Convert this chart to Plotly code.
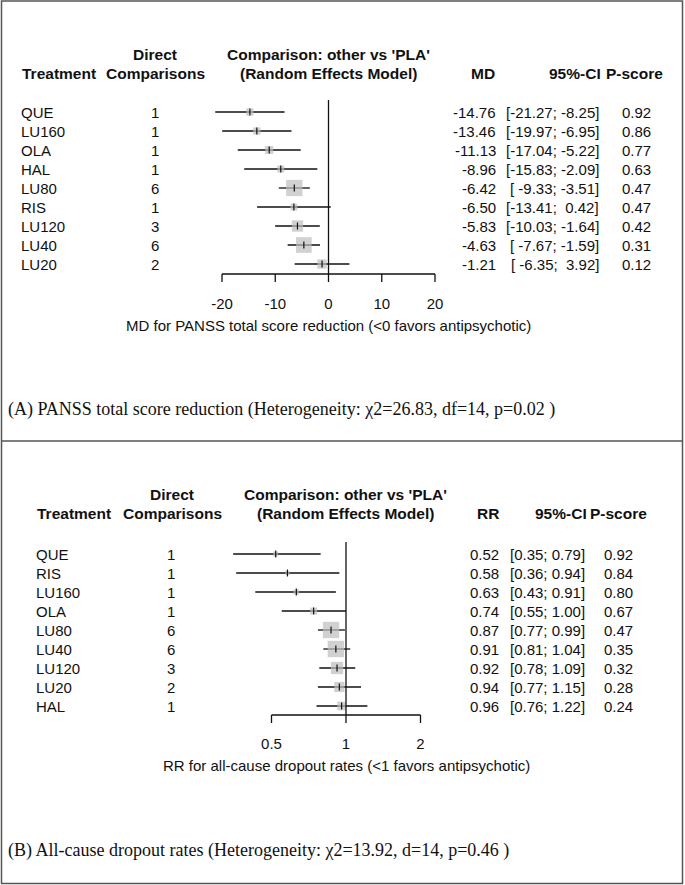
import math
import plotly.graph_objects as go

W, H = 685, 885

# ---------------- data: panel A (PANSS total score reduction, MD) ----------------
a_treat = ["QUE", "LU160", "OLA", "HAL", "LU80", "RIS", "LU120", "LU40", "LU20"]
a_direct = [1, 1, 1, 1, 6, 1, 3, 6, 2]
a_md = [-14.76, -13.46, -11.13, -8.96, -6.42, -6.50, -5.83, -4.63, -1.21]
a_lo = [-21.27, -19.97, -17.04, -15.83, -9.33, -13.41, -10.03, -7.67, -6.35]
a_hi = [-8.25, -6.95, -5.22, -2.09, -3.51, 0.42, -1.64, -1.59, 3.92]
a_pscore = [0.92, 0.86, 0.77, 0.63, 0.47, 0.47, 0.42, 0.31, 0.12]
a_ticks = [-20, -10, 0, 10, 20]
a_null = 0
a_axis_title = "MD for PANSS total score reduction (&lt;0 favors antipsychotic)"
a_caption = "(A) PANSS total score reduction (Heterogeneity: \u03c72=26.83, df=14, p=0.02 )"

# ---------------- data: panel B (all-cause dropout, RR) ----------------
b_treat = ["QUE", "RIS", "LU160", "OLA", "LU80", "LU40", "LU120", "LU20", "HAL"]
b_direct = [1, 1, 1, 1, 6, 6, 3, 2, 1]
b_rr = [0.52, 0.58, 0.63, 0.74, 0.87, 0.91, 0.92, 0.94, 0.96]
b_lo = [0.35, 0.36, 0.43, 0.55, 0.77, 0.81, 0.78, 0.77, 0.76]
b_hi = [0.79, 0.94, 0.91, 1.00, 0.99, 1.04, 1.09, 1.15, 1.22]
b_pscore = [0.92, 0.84, 0.80, 0.67, 0.47, 0.35, 0.32, 0.28, 0.24]
b_ticks = [0.5, 1, 2]
b_null = 1
b_axis_title = "RR for all-cause dropout rates (&lt;1 favors antipsychotic)"
b_caption = "(B) All-cause dropout rates (Heterogeneity: \u03c72=13.92, d=14, p=0.46 )"

# ---------------- layout constants (pixels) ----------------
ROW = 19.0
DIV = 441.0
SANS = "Liberation Sans, Arial, Helvetica, sans-serif"
SERIF = "Liberation Serif, Times New Roman, serif"
FS = 15
FSB = 15.5
INK = "#111111"
GREY = "#BEBEBE"

def px(x):
    return x / W

def py(y):
    return 1 - y / H

panels = [
    dict(key="A", treat=a_treat, direct=a_direct, est=a_md, lo=a_lo, hi=a_hi, ps=a_pscore,
         ticks=a_ticks, null=a_null, axis_title=a_axis_title, caption=a_caption,
         est_head="MD", log=False,
         top=0.0, bot=DIV, row0=112.0, h1=55.0, h2=73.5,
         zero_px=328.5, scale=213.0 / 40.0,
         name_x=21, direct_x=155, est_r=496, ci_r=599, p_c=636,
         h_treat=22, h_direct=155, h_comp=328, h_est_r=495, h_ci_r=601, h_p=634,
         vtop=100.0, axis_y=274.0, tick_len=8.0, ticklab_y=305.0, title_y=325.0, cap_y=410.0,
         sq_k=95.0),
    dict(key="B", treat=b_treat, direct=b_direct, est=b_rr, lo=b_lo, hi=b_hi, ps=b_pscore,
         ticks=b_ticks, null=b_null, axis_title=b_axis_title, caption=b_caption,
         est_head="RR", log=True,
         top=DIV, bot=float(H), row0=554.0, h1=495.0, h2=513.5,
         zero_px=346.0, scale=74.5 / math.log10(2),
         name_x=36, direct_x=171, est_r=499, ci_r=585, p_c=618,
         h_treat=37, h_direct=172, h_comp=345, h_est_r=499, h_ci_r=587, h_p=618,
         vtop=542.0, axis_y=715.0, tick_len=8.0, ticklab_y=745.0, title_y=765.0, cap_y=850.0,
         sq_k=4.1),
]

fig = go.Figure()
annotations = []
layout_axes = {}

for n, P in enumerate(panels):
    xa = "x" if n == 0 else "x2"
    ya = "y" if n == 0 else "y2"
    xname = "xaxis" if n == 0 else "xaxis2"
    yname = "yaxis" if n == 0 else "yaxis2"

    def rowy(pix, P=P):
        return (pix - P["row0"]) / ROW

    # axes: full-width invisible data axes, calibrated to pixel positions
    xr = [(0 - P["zero_px"]) / P["scale"], (W - P["zero_px"]) / P["scale"]]
    layout_axes[xname] = dict(type="log" if P["log"] else "linear", range=xr, domain=[0, 1],
                              visible=False, anchor=ya, fixedrange=True)
    layout_axes[yname] = dict(range=[rowy(P["bot"]), rowy(P["top"])],
                              domain=[py(P["bot"]), py(P["top"])],
                              visible=False, anchor=xa, fixedrange=True)

    idx = list(range(len(P["treat"])))

    # confidence interval lines
    cx, cy = [], []
    for i in idx:
        cx += [P["lo"][i], P["hi"][i], None]
        cy += [i, i, None]
    fig.add_trace(go.Scatter(x=cx, y=cy, xaxis=xa, yaxis=ya, mode="lines",
                             line=dict(color=INK, width=1.3), hoverinfo="skip"))

    # weight squares (size inversely proportional to CI width)
    if P["log"]:
        sizes = [P["sq_k"] / math.log(P["hi"][i] / P["lo"][i]) for i in idx]
    else:
        sizes = [P["sq_k"] / (P["hi"][i] - P["lo"][i]) for i in idx]
    fig.add_trace(go.Scatter(x=P["est"], y=idx, xaxis=xa, yaxis=ya, mode="markers",
                             marker=dict(symbol="square", size=sizes, color=GREY,
                                         line=dict(width=0)),
                             hoverinfo="skip"))
    # point estimate tick
    fig.add_trace(go.Scatter(x=P["est"], y=idx, xaxis=xa, yaxis=ya, mode="markers",
                             marker=dict(symbol="line-ns", size=5,
                                         line=dict(color=INK, width=1.2)),
                             hoverinfo="skip"))

    # null reference line
    fig.add_trace(go.Scatter(x=[P["null"], P["null"]], y=[rowy(P["vtop"]), rowy(P["axis_y"])],
                             xaxis=xa, yaxis=ya, mode="lines",
                             line=dict(color=INK, width=1.3), hoverinfo="skip"))

    # x axis line + ticks
    t = P["ticks"]
    ay = rowy(P["axis_y"])
    ty = rowy(P["axis_y"] + P["tick_len"])
    axx = [min(t), max(t), None]
    axy = [ay, ay, None]
    for v in t:
        axx += [v, v, None]
        axy += [ay, ty, None]
    fig.add_trace(go.Scatter(x=axx, y=axy, xaxis=xa, yaxis=ya, mode="lines",
                             line=dict(color=INK, width=1.3), hoverinfo="skip"))
    fig.add_trace(go.Scatter(x=t, y=[rowy(P["ticklab_y"])] * len(t), xaxis=xa, yaxis=ya,
                             mode="text", text=[f"{v:g}" for v in t],
                             textfont=dict(family=SANS, size=FS, color=INK),
                             hoverinfo="skip", cliponaxis=False))

    # axis title
    annotations.append(dict(x=px(P["zero_px"]), y=py(P["title_y"]), xref="paper", yref="paper",
                            text=P["axis_title"], showarrow=False, xanchor="center",
                            yanchor="middle", font=dict(family=SANS, size=FS, color=INK)))

    # header
    def head(x, y, text, anchor, P=P):
        annotations.append(dict(x=px(x), y=py(y), xref="paper", yref="paper",
                                text="<b>" + text + "</b>", showarrow=False, xanchor=anchor,
                                yanchor="middle", borderpad=0, borderwidth=0,
                                font=dict(family=SANS, size=FSB, color=INK)))
    head(P["h_direct"], P["h1"], "Direct", "center")
    head(P["h_comp"], P["h1"], "Comparison: other vs 'PLA'", "center")
    head(P["h_treat"], P["h2"], "Treatment", "left")
    head(P["h_direct"], P["h2"], "Comparisons", "center")
    head(P["h_comp"], P["h2"], "(Random Effects Model)", "center")
    head(P["h_est_r"], P["h2"], P["est_head"], "right")
    head(P["h_ci_r"], P["h2"], "95%-CI", "right")
    head(P["h_p"], P["h2"], "P-score", "center")

    # table cells
    def cell(x, i, text, anchor, ya=ya):
        annotations.append(dict(x=px(x), y=i, xref="paper", yref=ya, text=text,
                                showarrow=False, xanchor=anchor, yanchor="middle",
                                borderpad=0, borderwidth=0,
                                font=dict(family=SANS, size=FS, color=INK)))
    for i in idx:
        cell(P["name_x"], i, P["treat"][i], "left")
        cell(P["direct_x"], i, str(P["direct"][i]), "center")
        cell(P["est_r"], i, f"{P['est'][i]:.2f}", "right")
        if P["log"]:
            ci = f"[{P['lo'][i]:.2f}; {P['hi'][i]:.2f}]"
        else:
            ci = f"[{P['lo'][i]:6.2f}; {P['hi'][i]:5.2f}]"
        cell(P["ci_r"], i, ci.replace(" ", "\u00a0"), "right")
        cell(P["p_c"], i, f"{P['ps'][i]:.2f}", "center")

    # caption
    annotations.append(dict(x=px(8), y=py(P["cap_y"]), xref="paper", yref="paper",
                            text=P["caption"], showarrow=False, xanchor="left",
                            yanchor="middle", borderpad=0, borderwidth=0,
                            font=dict(family=SERIF, size=18, color="#111111")))

shapes = [
    dict(type="rect", xref="paper", yref="paper", x0=px(1.5), x1=px(682.5),
         y0=py(883.5), y1=py(1.0), line=dict(color="#555555", width=1.5)),
    dict(type="line", xref="paper", yref="paper", x0=px(1.5), x1=px(682.5),
         y0=py(DIV), y1=py(DIV), line=dict(color="#555555", width=1.5)),
]

fig.update_layout(
    width=W, height=H, margin=dict(l=0, r=0, t=0, b=0),
    paper_bgcolor="white", plot_bgcolor="rgba(0,0,0,0)",
    showlegend=False, annotations=annotations, shapes=shapes,
    **layout_axes,
)

fig.write_html("out.html",
               config={"displayModeBar": False, "staticPlot": True},
               post_script="document.body.style.margin='0';document.body.style.overflow='hidden';")
